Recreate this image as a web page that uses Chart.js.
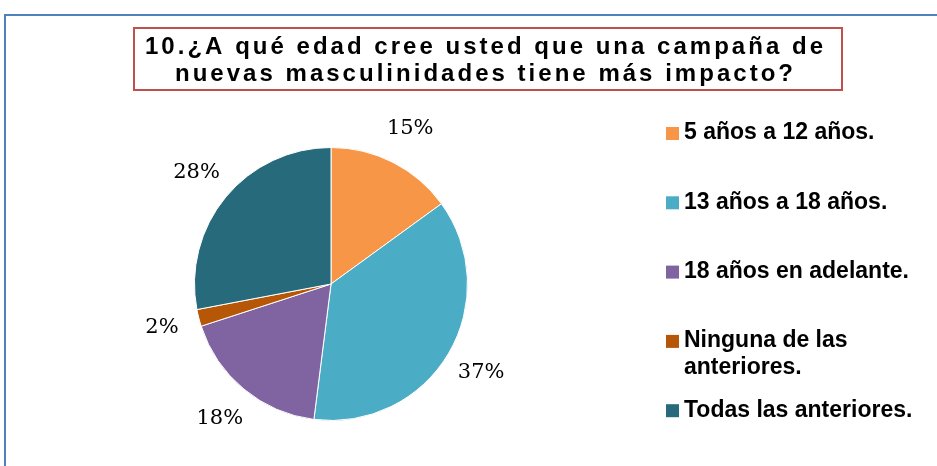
<!DOCTYPE html>
<html>
<head>
<meta charset="utf-8">
<script src="https://cdn.jsdelivr.net/npm/chart.js@4.4.1/dist/chart.umd.min.js"></script>
<style>
  html, body { margin: 0; padding: 0; background: #fff; }
  #wrap { position: relative; width: 937px; height: 466px; }
</style>
</head>
<body>
<div id="wrap"><canvas id="pieChart" width="937" height="466"></canvas></div>
<script>
// data
var categories = ["5 años a 12 años.", "13 años a 18 años.", "18 años en adelante.", "Ninguna de las anteriores.", "Todas las anteriores."];
var percents = [15, 37, 18, 2, 28];
var colors = ["#F79646", "#4BACC6", "#8064A2", "#B65708", "#276A7C"];
var titleLines = ["10.¿A qué edad cree usted que una campaña de", "nuevas masculinidades tiene más impacto?"];

// frame, title box and legend drawn on the canvas
var decorPlugin = {
    id: "decor",
    beforeDraw: function(chart) {
        var ctx = chart.ctx;
        ctx.save();
        ctx.fillStyle = "#fff";
        ctx.fillRect(0, 0, chart.width, chart.height);
        // outer frame (top + left only visible)
        ctx.strokeStyle = "#4F81BD";
        ctx.lineWidth = 2;
        ctx.beginPath();
        ctx.moveTo(5, chart.height);
        ctx.lineTo(5, 15);
        ctx.lineTo(chart.width, 15);
        ctx.stroke();
        ctx.restore();
    },
    afterDraw: function(chart) {
        var ctx = chart.ctx;
        ctx.save();
        // title box
        ctx.strokeStyle = "#C0504D";
        ctx.lineWidth = 2;
        ctx.strokeRect(134, 28, 708, 62);
        ctx.fillStyle = "#000";
        ctx.font = "bold 24px 'Liberation Sans', Arial, sans-serif";
        ctx.textBaseline = "middle";
        ctx.textAlign = "left";
        var targets = [678, 618];
        var ys = [47, 74];
        for (var t = 0; t < titleLines.length; t++) {
            ctx.letterSpacing = "0px";
            var w = ctx.measureText(titleLines[t]).width;
            var sp = (targets[t] - w) / (titleLines[t].length - 1);
            ctx.letterSpacing = sp + "px";
            ctx.fillText(titleLines[t], 484 - targets[t] / 2, ys[t]);
        }
        ctx.letterSpacing = "0px";

        // legend
        ctx.font = "bold 23px 'Liberation Sans', Arial, sans-serif";
        var lx = 666, tx = 684, maxW = 246;
        var y = 133;
        for (var i = 0; i < categories.length; i++) {
            ctx.fillStyle = colors[i];
            ctx.fillRect(lx, y - 6, 13, 13);
            ctx.fillStyle = "#000";
            var words = categories[i].split(" ");
            var lines = [], cur = "";
            for (var k = 0; k < words.length; k++) {
                var test = cur ? cur + " " + words[k] : words[k];
                if (ctx.measureText(test).width > maxW && cur) {
                    lines.push(cur);
                    cur = words[k];
                } else {
                    cur = test;
                }
            }
            lines.push(cur);
            for (var l = 0; l < lines.length; l++) {
                ctx.fillText(lines[l], tx, y + l * 27);
            }
            y += 69.3;
        }
        ctx.restore();
    }
};

// percentage labels outside each slice
var labelPlugin = {
    id: "pctLabels",
    afterDatasetsDraw: function(chart) {
        var ctx = chart.ctx;
        var meta = chart.getDatasetMeta(0);
        ctx.save();
        ctx.font = "21px 'DejaVu Serif', serif";
        ctx.fillStyle = "#000";
        ctx.textAlign = "center";
        ctx.textBaseline = "middle";
        meta.data.forEach(function(arc, i) {
            var p = arc.getProps(["x", "y", "startAngle", "endAngle", "outerRadius"], true);
            var mid = (p.startAngle + p.endAngle) / 2;
            var d = p.outerRadius + 38;
            ctx.fillText(percents[i] + "%", p.x + Math.cos(mid) * d, p.y + Math.sin(mid) * d);
        });
        ctx.restore();
    }
};

var ctx = document.getElementById("pieChart");
var pieChart = new Chart(ctx, {
    type: "pie",
    data: {
        labels: categories,
        datasets: [{
            data: percents,
            backgroundColor: colors,
            borderColor: "#fff",
            borderWidth: 1
        }]
    },
    options: {
        responsive: false,
        animation: false,
        layout: { padding: { left: 194, top: 147, right: 469, bottom: 45 } },
        plugins: {
            legend: { display: false },
            tooltip: { enabled: false },
            title: { display: false }
        }
    },
    plugins: [decorPlugin, labelPlugin]
});
</script>
</body>
</html>
